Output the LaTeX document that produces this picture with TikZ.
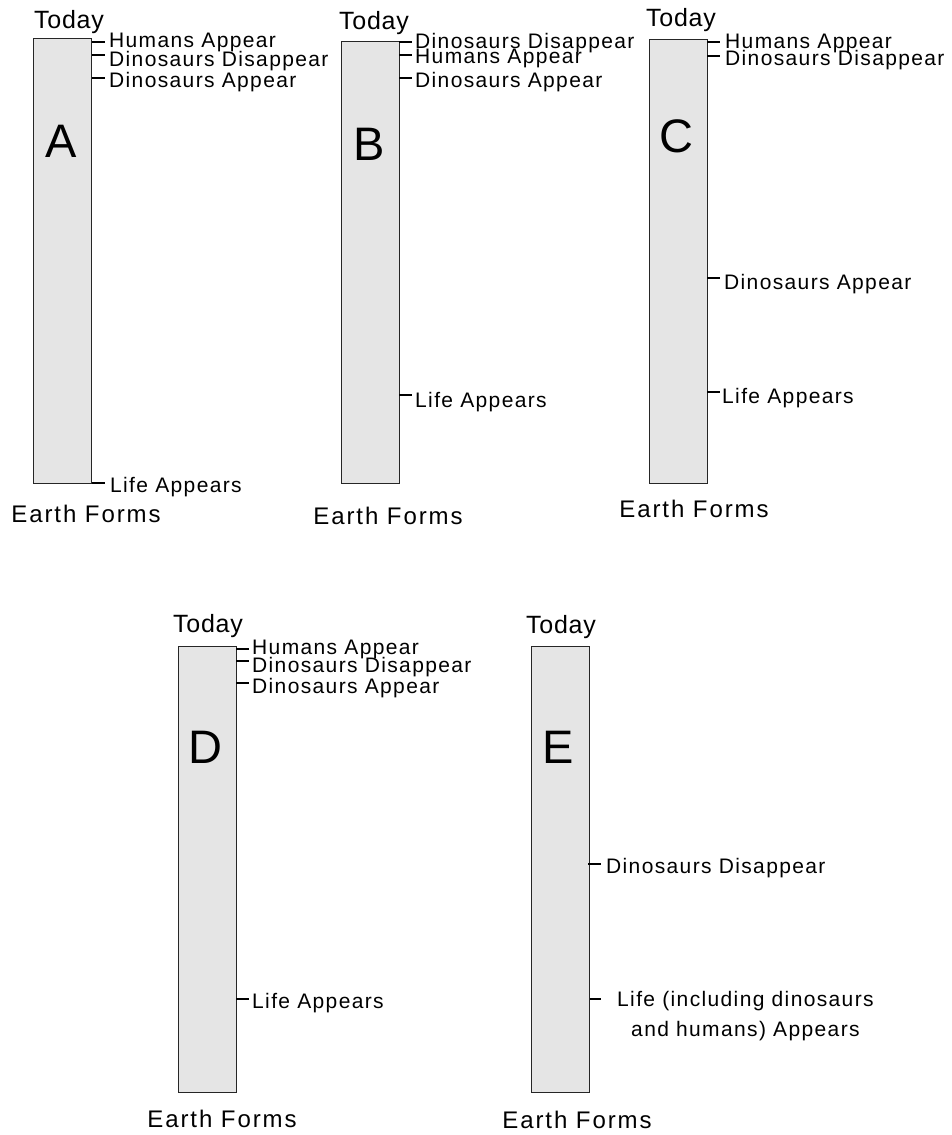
\documentclass[tikz,border=0pt]{standalone}
\usepackage{fontspec}
\setmainfont{Liberation Sans}
\usepackage{tikz}

\definecolor{barfill}{HTML}{E5E5E5}

\newcommand{\eventfont}{\addfontfeature{LetterSpace=6.5}\fontsize{21}{30}\selectfont}
\newcommand{\todayfont}{\addfontfeature{LetterSpace=3}\fontsize{25}{25}\selectfont}
\newcommand{\earthfont}{\addfontfeature{LetterSpace=8}\fontsize{24}{24}\selectfont}
\newcommand{\letterfont}{\fontsize{47}{47}\selectfont}

\tikzset{
  bar/.style={rectangle, draw=black!85, fill=barfill, line width=1.2pt, anchor=north west, inner sep=0pt, minimum width=58pt},
  tick/.style={line width=1.8pt},
  event/.style={anchor=base west, inner sep=0pt, font=\eventfont},
  today/.style={anchor=base, inner sep=0pt, font=\todayfont},
  earth/.style={anchor=base, inner sep=0pt, font=\earthfont},
  letter/.style={anchor=base, inner sep=0pt, font=\letterfont}
}

\begin{document}
\begin{tikzpicture}[x=1pt, y=-1pt]
        \useasboundingbox (0,0) rectangle (951,1135);

        % model A
        \node (barA) [bar, minimum height=445pt] at (33,38) {};
        \node (letA) [letter] at (61,157) {A};
        \node (todayA) [today] at (69,28) {Today};
        \node (earthA) [earth] at (86,522) {Earth Forms};
        \node (a1) [event] at (109,47) {Humans Appear};
        \node (a2) [event] at (109,66) {Dinosaurs Disappear};
        \node (a3) [event] at (109,87) {Dinosaurs Appear};
        \node (a4) [event] at (110,492) {Life Appears};
        \coordinate (ta1) at (92,42);
        \coordinate (ta2) at (92,55);
        \coordinate (ta3) at (92,78);
        \coordinate (ta4) at (92,483);
        \draw[tick] (ta1) -- ++(13,0);
        \draw[tick] (ta2) -- ++(13,0);
        \draw[tick] (ta3) -- ++(13,0);
        \draw[tick] (ta4) -- ++(13,0);

        % model B
        \node (barB) [bar, minimum height=442pt] at (341,41) {};
        \node (letB) [letter] at (369,160) {B};
        \node (todayB) [today] at (374,29) {Today};
        \node (earthB) [earth] at (388,524) {Earth Forms};
        \node (b1) [event] at (415,48) {Dinosaurs Disappear};
        \node (b2) [event] at (415,63) {Humans Appear};
        \node (b3) [event] at (415,87) {Dinosaurs Appear};
        \node (b4) [event] at (415,407) {Life Appears};
        \coordinate (tb1) at (399,42);
        \coordinate (tb2) at (399,55);
        \coordinate (tb3) at (399,78);
        \coordinate (tb4) at (399,395);
        \draw[tick] (tb1) -- ++(13,0);
        \draw[tick] (tb2) -- ++(13,0);
        \draw[tick] (tb3) -- ++(13,0);
        \draw[tick] (tb4) -- ++(13,0);

        % model C
        \node (barC) [bar, minimum height=444pt] at (649,39) {};
        \node (letC) [letter] at (676,152) {C};
        \node (todayC) [today] at (681,26) {Today};
        \node (earthC) [earth] at (694,517) {Earth Forms};
        \node (c1) [event] at (725,48) {Humans Appear};
        \node (c2) [event] at (725,65) {Dinosaurs Disappear};
        \node (c3) [event] at (724,289) {Dinosaurs Appear};
        \node (c4) [event] at (722,403) {Life Appears};
        \coordinate (tc1) at (707,42);
        \coordinate (tc2) at (707,56);
        \coordinate (tc3) at (707,278);
        \coordinate (tc4) at (707,392);
        \draw[tick] (tc1) -- ++(13,0);
        \draw[tick] (tc2) -- ++(13,0);
        \draw[tick] (tc3) -- ++(13,0);
        \draw[tick] (tc4) -- ++(13,0);

        % model D
        \node (barD) [bar, minimum height=446pt] at (178,646) {};
        \node (letD) [letter] at (205,763) {D};
        \node (todayD) [today] at (208,632) {Today};
        \node (earthD) [earth] at (222,1127) {Earth Forms};
        \node (d1) [event] at (252,654) {Humans Appear};
        \node (d2) [event] at (252,672) {Dinosaurs Disappear};
        \node (d3) [event] at (252,693) {Dinosaurs Appear};
        \node (d4) [event] at (252,1008) {Life Appears};
        \coordinate (td1) at (236,649);
        \coordinate (td2) at (236,661);
        \coordinate (td3) at (236,683);
        \coordinate (td4) at (236,999);
        \draw[tick] (td1) -- ++(13,0);
        \draw[tick] (td2) -- ++(13,0);
        \draw[tick] (td3) -- ++(13,0);
        \draw[tick] (td4) -- ++(13,0);

        % model E
        \node (barE) [bar, minimum height=446pt] at (531,646) {};
        \node (letE) [letter] at (558,763) {E};
        \node (todayE) [today] at (561,633) {Today};
        \node (earthE) [earth] at (577,1128) {Earth Forms};
        \node (e1) [event] at (606,873) {Dinosaurs Disappear};
        \node (e2) [event, anchor=north west, align=center] at (617,991) {Life (including dinosaurs\\and humans) Appears};
        \coordinate (te1) at (588,864);
        \coordinate (te2) at (590,999);
        \draw[tick] (te1) -- ++(13,0);
        \draw[tick] (te2) -- ++(11,0);
    \end{tikzpicture}
\end{document}
